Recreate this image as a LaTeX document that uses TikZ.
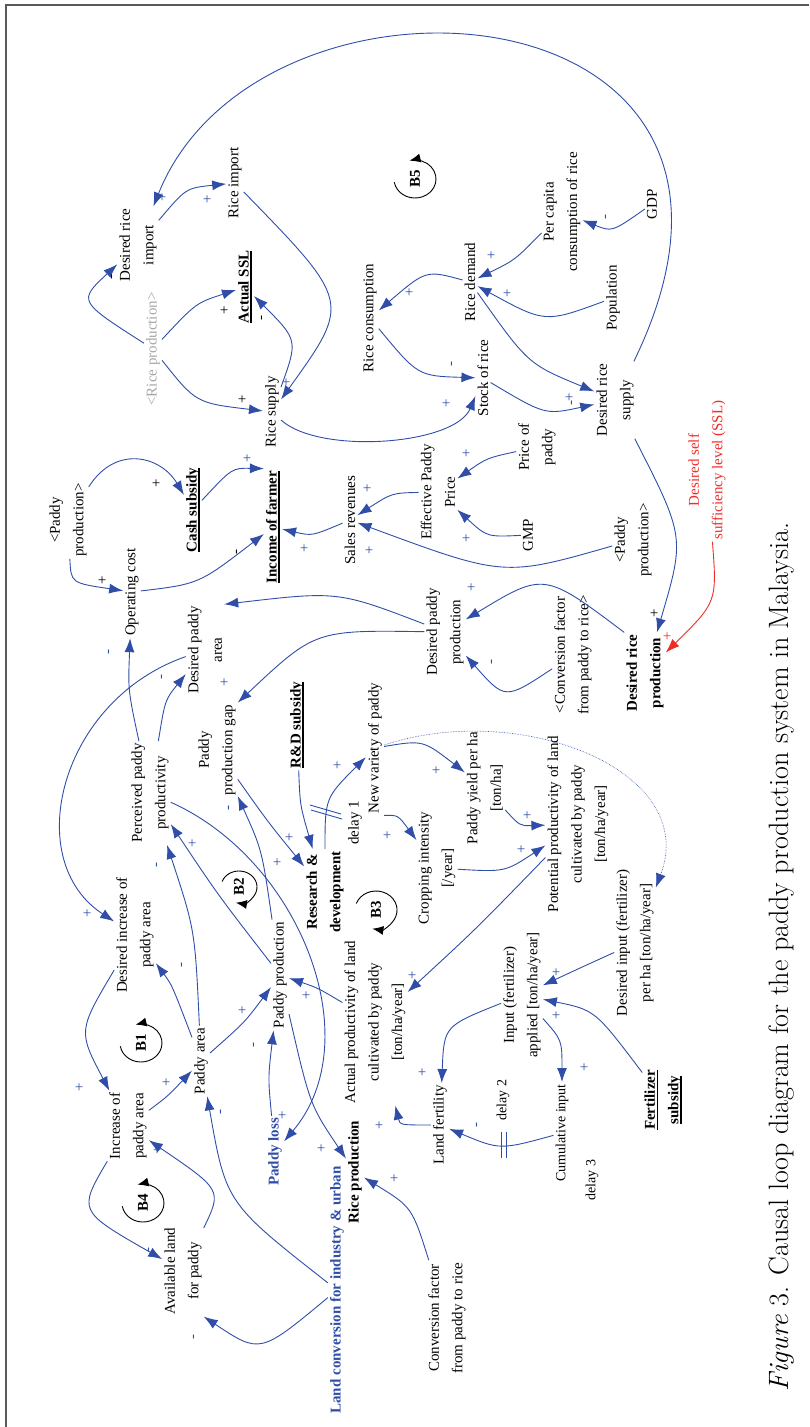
\documentclass[tikz,border=0pt]{standalone}
\usepackage{fontspec}
\newfontfamily\lab{Liberation Serif}
\usetikzlibrary{arrows.meta}
\definecolor{cldblue}{RGB}{48,78,168}
\definecolor{sslred}{RGB}{238,45,40}
\newcommand{\ulx}[1]{\setbox0\hbox{#1}\leavevmode\rlap{\rule[-3.2pt]{\wd0}{1.5pt}}\box0}

\tikzset{
  var/.style={rotate=90, align=center, inner sep=2pt, font=\lab\fontsize{15}{23.5}\selectfont},
  bvar/.style={var, font=\lab\bfseries\fontsize{15}{23.5}\selectfont},
  smallvar/.style={var, font=\lab\fontsize{14}{20}\selectfont},
  pol/.style={rotate=90, inner sep=0pt, text=cldblue, font=\lab\fontsize{15}{15}\selectfont},
  polk/.style={pol, text=black},
  polr/.style={pol, text=sslred},
  link/.style={draw=cldblue, line width=0.9pt, -{Latex[length=14pt,width=10pt]}},
  redlink/.style={link, draw=sslred},
  dotlink/.style={link, line width=0.6pt, densely dotted},
  loopname/.style={rotate=90, inner sep=1pt, font=\lab\bfseries\fontsize{15}{15}\selectfont},
  looparc/.style={draw=black, line width=0.9pt, -{Latex[length=11pt,width=9pt]}},
  delaymark/.style={draw=cldblue, line width=0.9pt}
}

\begin{document}
\begin{tikzpicture}[x=1pt, y=-1pt]
\useasboundingbox (0,0) rectangle (809,1427);
\draw[black!65, line width=1.4pt] (6,1427) -- (6,5) -- (809,5);

\node[var] (dri) at (138,245) {Desired rice\\import};
\node[var] (rimp) at (235,183) {Rice import};
\node[bvar] (assl) at (245,287) {\ulx{Actual SSL}};
\node[var, text=black!35] (rprodg) at (153,349) {<Rice production>};
\node[var] (rsup) at (272,412) {Rice supply};
\node[var] (rcons) at (370,318) {Rice consumption};
\node[var] (rdem) at (470,282) {Rice demand};
\node[var] (stock) at (483,378) {Stock of rice};
\node[var] (pcap) at (562,212) {Per capita\\consumption of rice};
\node[var] (gdp) at (652,204) {GDP};
\node[var] (popu) at (613,298) {Population};
\node[var] (drs) at (615,400) {Desired rice\\supply};
\node[var, text=sslred] (ssl) at (707,470) {Desired self\\sufficiency level (SSL)};
\node[var] (ppa) at (68,520) {<Paddy\\production>};
\node[bvar] (cash) at (193,510) {\ulx{Cash subsidy}};
\node[bvar] (inc) at (273,527) {\ulx{Income of farmer}};
\node[var] (opc) at (132,592) {Operating cost};
\node[var] (dpa) at (205,650) {Desired paddy\\area};
\node[var] (sales) at (350,520) {Sales revenues};
\node[var] (epp) at (438,492) {Effective Paddy\\Price};
\node[var] (pricep) at (537,447) {Price of\\paddy};
\node[var] (gmp) at (528,535) {GMP};
\node[var] (ppb) at (633,540) {<Paddy\\production>};
\node[var] (dpp) at (445,632) {Desired paddy\\production};
\node[var] (cfra) at (573,655) {<Conversion factor\\from paddy to rice>};
\node[bvar] (drp) at (645,673) {Desired rice\\production};
\node[var] (ppp) at (150,793) {Perceived paddy\\productivity};
\node[var] (gap) at (217,750) {Paddy\\production gap};
\node[bvar] (rds) at (297,725) {\ulx{R\&D subsidy}};
\node[var] (nvp) at (375,748) {New variety of paddy};
\node[var] (pyh) at (485,788) {Paddy yield per ha\\{[ton/ha]}};
\node[var] (dl1) at (355,823) {delay 1};
\node[bvar] (rnd) at (325,892) {Research \&\\development};
\node[var] (ci) at (437,868) {Cropping intensity\\{[/year]}};
\node[var] (apl) at (375,1022) {Actual productivity of land\\cultivated by paddy\\{[ton/ha/year]}};
\node[var] (ppl) at (578,824) {Potential productivity of land\\cultivated by paddy\\{[ton/ha/year]}};
\node[var] (inp) at (522,995) {Input (fertilizer)\\applied [ton/ha/year]};
\node[var] (dinp) at (635,943) {Desired input (fertilizer)\\per ha [ton/ha/year]};
\node[var] (dipa) at (135,935) {Desired increase of\\paddy area};
\node[var] (prodn) at (280,975) {Paddy production};
\node[var] (ipa) at (128,1126) {Increase of\\paddy area};
\node[var] (parea) at (201,1061) {Paddy area};
\node[var] (aland) at (183,1271) {Available land\\for paddy};
\node[bvar, text=cldblue] (ploss) at (275,1152) {Paddy loss};
\node[bvar, text=cldblue] (lconv) at (337,1290) {Land conversion for industry \& urban};
\node[bvar] (rprod) at (355,1172) {Rice production};
\node[var] (cfrb) at (447,1318) {Conversion factor\\from paddy to rice};
\node[var] (lfert) at (440,1125) {Land fertility};
\node[smallvar] (dl2) at (503,1100) {delay 2};
\node[smallvar] (cum) at (562,1133) {Cumulative input};
\node[smallvar] (dl3) at (592,1180) {delay 3};
\node[bvar] (fsub) at (663,1100) {\ulx{Fertilizer}\\\ulx{subsidy}};

\draw[link] (drs) .. controls (820,-20) and (260,-60) .. (dri);
\draw[link] (dri) .. controls (186,188) .. (rimp);
\draw[link] (rprodg) .. controls (78,301) .. (dri);
\draw[link] (rprodg) .. controls (196,303) .. (assl);
\draw[link] (rprodg) .. controls (196,403) .. (rsup);
\draw[link] (rimp) .. controls (351,302) .. (rsup);
\draw[link] (rsup) .. controls (298,340) .. (assl);
\draw[link] (rsup) .. controls (320,455) and (455,445) .. (stock);
\draw[link] (rdem) .. controls (426,270) .. (rcons);
\draw[link] (rcons) .. controls (418,376) .. (stock);
\draw[link] (pcap) .. controls (515,260) .. (rdem);
\draw[link] (popu) .. controls (545,323) .. (rdem);
\draw[link] (gdp) .. controls (612,232) .. (pcap);
\draw[link] (rdem) .. controls (528,364) .. (drs);
\draw[link] (stock) .. controls (545,415) .. (drs);
\draw[link] (drs) .. controls (685,537) .. (drp);
\draw[redlink] (ssl) .. controls (717,602) .. (drp);
\draw[link] (ppa) .. controls (115,445) and (160,455) .. (cash);
\draw[link] (ppa) .. controls (71,583) .. (opc);
\draw[link] (cash) .. controls (232,468) .. (inc.north east);
\draw[link] (opc) .. controls (199,584) .. (inc);
\draw[link] (sales) .. controls (312,536) .. (inc);
\draw[link] (epp) .. controls (392,493) .. (sales);
\draw[link] (pricep) .. controls (487,458) .. (epp);
\draw[link] (gmp) .. controls (487,537) .. (epp);
\draw[link] (ppb) .. controls (504,577) .. (sales);
\draw[link] (drp.north east) .. controls (544,572) .. (dpp);
\draw[link] (cfra) .. controls (505,700) .. (dpp);
\draw[link] (dpp) .. controls (338,591) .. (dpa.south east);
\draw[link] (dpp) .. controls (315,630) .. (gap.south east);
\draw[link] (dpa) .. controls (60,700) and (20,860) .. (dipa);
\draw[link] (ppp) .. controls (128,690) .. (opc);
\draw[link] (ppp) .. controls (165,700) .. (dpa);
\draw[link] (parea) .. controls (172,985) .. (dipa);
\draw[link] (parea) .. controls (195,930) .. (ppp);
\draw[link] (prodn) .. controls (218,895) .. (ppp);
\draw[link] (prodn) .. controls (262,850) .. (gap);
\draw[link] (parea) .. controls (245,1022) .. (prodn);
\draw[link] (ppp) .. controls (300,860) and (370,1040) .. (ploss);
\draw[link] (gap) .. controls (268,822) .. (rnd);
\draw[link] (rds) .. controls (300,805) .. (rnd);
\draw[link] (rnd) .. controls (325,798) .. (nvp);
\draw[link] (nvp) .. controls (423,740) .. (pyh);
\draw[link] (nvp.south west) .. controls (398,815) .. (ci);
\draw[link] (pyh) .. controls (520,826) .. (ppl);
\draw[link] (ci) .. controls (505,872) .. (ppl);
\draw[link] (ppl) .. controls (476,929) .. (apl);
\draw[link] (apl) .. controls (318,988) .. (prodn);
\draw[dotlink] (nvp) .. controls (520,700) and (700,770) .. (dinp);
\draw[link] (dinp) .. controls (580,968) .. (inp);
\draw[link] (fsub) .. controls (595,1010) .. (inp);
\draw[link] (inp) .. controls (562,1040) .. (cum);
\draw[link] (inp) .. controls (444,1026) .. (lfert);
\draw[link] (cum) .. controls (500,1150) .. (lfert);
\draw[link] (lfert) .. controls (400,1125) .. (apl);
\draw[link] (prodn) .. controls (310,1105) .. (rprod);
\draw[link] (cfrb) .. controls (412,1207) .. (rprod);
\draw[link] (ploss) .. controls (268,1078) .. (prodn);
\draw[link] (dipa) .. controls (78,1031) .. (ipa);
\draw[link] (ipa) .. controls (168,1096) .. (parea);
\draw[link] (ipa) .. controls (78,1211) .. (aland);
\draw[link] (aland) .. controls (222,1190) .. (ipa);
\draw[link] (lconv) .. controls (260,1354) .. (aland.south west);
\draw[link] (lconv) .. controls (226,1203) .. (parea);

\draw[delaymark] (310,805) -- (341,814);
\draw[delaymark] (311,810) -- (342,819);
\draw[delaymark] (501,1132) -- (501,1158);
\draw[delaymark] (506,1132) -- (506,1158);

\node[pol] (p1) at (163,197) {+};
\node[pol] (p2) at (208,199) {+};
\node[polk] (p3) at (113,277) {-};
\node[polk] (p4) at (225,310) {+};
\node[polk] (p5) at (243,399) {+};
\node[pol] (p6) at (287,382) {+};
\node[polk] (p7) at (263,318) {-};
\node[pol] (p8) at (447,403) {+};
\node[pol] (p9) at (410,292) {+};
\node[pol] (p10) at (453,364) {-};
\node[pol] (p11) at (492,255) {+};
\node[pol] (p12) at (508,293) {+};
\node[pol] (p13) at (607,217) {-};
\node[pol] (p14) at (570,397) {+};
\node[pol] (p15) at (573,403) {-};
\node[polk] (p16) at (655,613) {+};
\node[polr] (p17) at (668,636) {+};
\node[polk] (p18) at (157,483) {+};
\node[polk] (p19) at (103,580) {+};
\node[pol] (p20) at (248,458) {+};
\node[polk] (p21) at (238,552) {-};
\node[pol] (p22) at (305,548) {+};
\node[pol] (p23) at (368,488) {+};
\node[pol] (p24) at (467,453) {+};
\node[pol] (p25) at (467,538) {+};
\node[pol] (p26) at (370,550) {+};
\node[pol] (p27) at (472,587) {+};
\node[pol] (p28) at (493,662) {-};
\node[pol] (p29) at (237,603) {+};
\node[pol] (p30) at (225,682) {+};
\node[pol] (p31) at (88,913) {+};
\node[pol] (p32) at (110,652) {-};
\node[pol] (p33) at (163,677) {-};
\node[pol] (p34) at (183,965) {-};
\node[pol] (p35) at (158,865) {-};
\node[pol] (p36) at (193,843) {+};
\node[pol] (p37) at (230,808) {-};
\node[pol] (p38) at (243,1010) {+};
\node[pol] (p39) at (283,1115) {+};
\node[pol] (p40) at (278,862) {+};
\node[pol] (p41) at (290,837) {+};
\node[pol] (p42) at (338,765) {+};
\node[pol] (p43) at (437,770) {+};
\node[pol] (p44) at (388,835) {+};
\node[pol] (p45) at (528,815) {+};
\node[pol] (p46) at (522,849) {+};
\node[pol] (p47) at (413,975) {+};
\node[pol] (p48) at (307,995) {+};
\node[pol] (p50) at (557,972) {+};
\node[pol] (p51) at (557,1015) {+};
\node[pol] (p52) at (585,1067) {+};
\node[pol] (p53) at (423,1072) {+};
\node[pol] (p54) at (478,1125) {-};
\node[pol] (p55) at (380,1125) {+};
\node[pol] (p56) at (322,1148) {+};
\node[pol] (p57) at (395,1178) {+};
\node[pol] (p58) at (255,1045) {-};
\node[pol] (p59) at (80,1087) {+};
\node[pol] (p60) at (167,1082) {+};
\node[pol] (p61) at (150,1250) {-};
\node[pol] (p62) at (158,1150) {+};
\node[pol] (p63) at (195,1337) {-};
\node[pol] (p64) at (222,1112) {-};

\node[loopname] (b1) at (141,1043) {B1};
\node[loopname] (b2) at (239,887) {B2};
\node[loopname] (b3) at (376,910) {B3};
\node[loopname] (b4) at (143,1203) {B4};
\node[loopname] (b5) at (415,179) {B5};
\draw[looparc] (b1) ++(-20.7,3.3) arc[start angle=170, end angle=-105, x radius=21, y radius=19];
\draw[looparc] (b4) ++(-20.7,3.3) arc[start angle=170, end angle=-105, x radius=21, y radius=19];
\draw[looparc] (b5) ++(-20.7,3.3) arc[start angle=170, end angle=-105, x radius=21, y radius=19];
\draw[looparc] (b2) ++(-16.9,-5.5) arc[start angle=-160, end angle=100, x radius=18, y radius=16];
\draw[looparc] (b3) ++(-19.7,-6.5) arc[start angle=-160, end angle=100, x radius=21, y radius=19];

\node[rotate=90, font=\fontsize{28}{28}\selectfont] (cap) at (782,957) {\textit{Figure} 3. Causal loop diagram for the paddy production system in Malaysia.};
\end{tikzpicture}
\end{document}
